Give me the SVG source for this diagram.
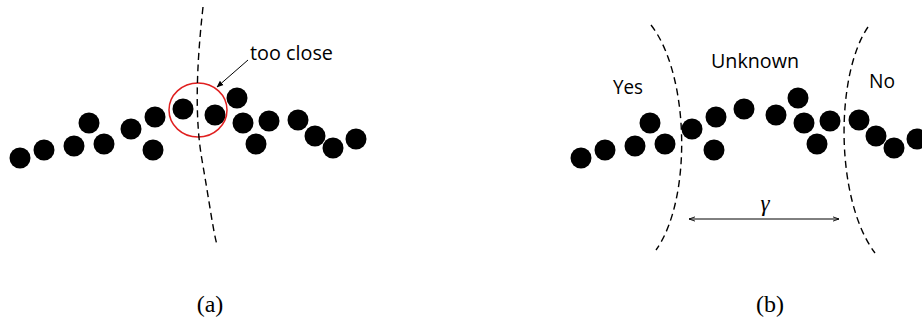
<svg xmlns="http://www.w3.org/2000/svg" width="922" height="320" viewBox="0 0 922 320">
<style>
.dot{fill:#000}
.dash{fill:none;stroke:#000;stroke-width:1.4;stroke-dasharray:7 4.5}
.lbl{font-family:"Open Sans","Liberation Sans",sans-serif;font-size:20px;fill:#000}
.cap{font-family:"Liberation Serif",serif;font-size:24px;fill:#000;text-anchor:middle}
.ln{fill:none;stroke:#000;stroke-width:1}
</style>
<defs>
<marker id="ah" viewBox="0 0 10 10" refX="9" refY="5" markerWidth="7" markerHeight="7" orient="auto-start-reverse" markerUnits="userSpaceOnUse">
<path d="M0,1 L10,5 L0,9 Z" fill="#000"/>
</marker>
<marker id="sh" viewBox="0 0 10 10" refX="10" refY="5" markerWidth="6" markerHeight="6" orient="auto-start-reverse" markerUnits="userSpaceOnUse">
<path d="M0,1.5 L10,5 L0,8.5" fill="none" stroke="#000" stroke-width="1.5"/>
</marker>
<g id="pts">
<circle class="dot" cx="20" cy="158" r="10.5"/>
<circle class="dot" cx="44" cy="150" r="10.5"/>
<circle class="dot" cx="74" cy="146" r="10.5"/>
<circle class="dot" cx="89" cy="123" r="10.5"/>
<circle class="dot" cx="104" cy="144" r="10.5"/>
<circle class="dot" cx="131" cy="129" r="10.5"/>
<circle class="dot" cx="155" cy="117" r="10.5"/>
<circle class="dot" cx="153" cy="150" r="10.5"/>
<circle class="dot" cx="183" cy="109" r="10.5"/>
<circle class="dot" cx="215" cy="115" r="10.5"/>
<circle class="dot" cx="237" cy="98" r="10.5"/>
<circle class="dot" cx="243" cy="123" r="10.5"/>
<circle class="dot" cx="269" cy="121" r="10.5"/>
<circle class="dot" cx="256" cy="144" r="10.5"/>
<circle class="dot" cx="298" cy="120" r="10.5"/>
<circle class="dot" cx="315" cy="136" r="10.5"/>
<circle class="dot" cx="333" cy="148" r="10.5"/>
<circle class="dot" cx="356" cy="139" r="10.5"/>
</g>
</defs>
<g id="panel-a">
<use href="#pts"/>
<ellipse cx="198" cy="110" rx="29" ry="27" fill="none" stroke="#e02020" stroke-width="1.5"/>
<text class="lbl" x="250" y="60" textLength="83" lengthAdjust="spacingAndGlyphs">too close</text>
<text class="cap" x="210" y="312">(a)</text>
</g>
<g id="panel-b">
<use href="#pts" x="561"/>
<text class="lbl" x="613" y="94" textLength="30" lengthAdjust="spacingAndGlyphs">Yes</text>
<text class="lbl" x="711" y="68" textLength="88" lengthAdjust="spacingAndGlyphs">Unknown</text>
<text class="lbl" x="869" y="88" textLength="26" lengthAdjust="spacingAndGlyphs">No</text>
<text x="765" y="211" font-family="Liberation Serif,serif" font-style="italic" font-size="23" text-anchor="middle">γ</text>
<text class="cap" x="770" y="312">(b)</text>
</g>
<g id="connectors">
<path class="dash" d="M203,7 C196,70 195,120 202,160 S213,230 217,245"/>
<path class="ln" d="M248,60 L217,87" marker-end="url(#ah)"/>
<path class="dash" d="M651,25 C690,75 692,200 656,250"/>
<path class="dash" d="M868,27 C835,75 835,200 875,253"/>
<path class="ln" d="M689,219 L839,219" marker-start="url(#sh)" marker-end="url(#sh)"/>
</g>
</svg>
